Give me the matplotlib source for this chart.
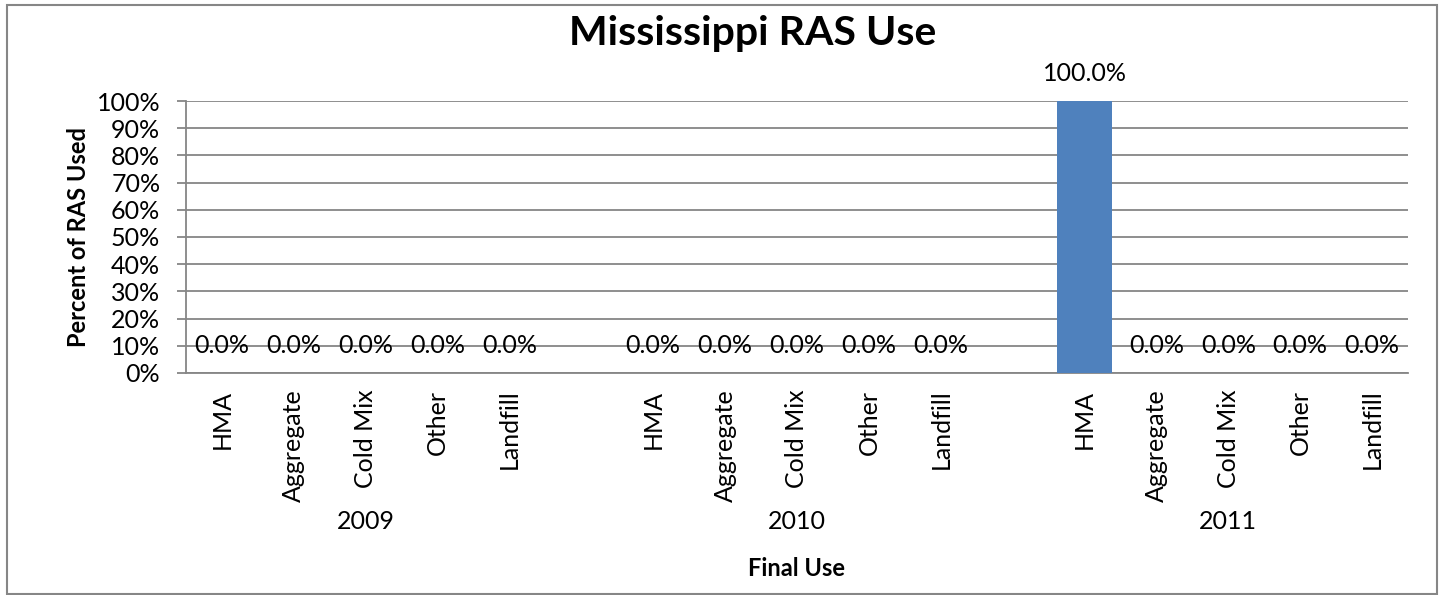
import numpy as np
import matplotlib
matplotlib.use("Agg")
import matplotlib.pyplot as plt
from matplotlib.patches import Rectangle

plt.rcParams['font.family'] = ['Lato', 'DejaVu Sans']

# data
years = ['2009', '2010', '2011']
uses = ['HMA', 'Aggregate', 'Cold Mix', 'Other', 'Landfill']
pct_2009 = [0.0, 0.0, 0.0, 0.0, 0.0]
pct_2010 = [0.0, 0.0, 0.0, 0.0, 0.0]
pct_2011 = [100.0, 0.0, 0.0, 0.0, 0.0]
all_pct = [pct_2009, pct_2010, pct_2011]

W, H = 1443, 595
fig = plt.figure(figsize=(W / 100, H / 100), dpi=100)
ax = fig.add_axes([186 / W, 1 - 373 / H, (1408 - 186) / W, (373 - 101) / H])

grey = '#868686'
bar_col = '#4F81BD'
fs = 18

# one empty slot between the year groups
slot = len(uses) + 1
xs, labels = [], []
for g, vals in enumerate(all_pct):
    pos = np.arange(len(uses)) + g * slot
    ax.bar(pos, vals, width=0.77, color=bar_col, zorder=3)
    for p, v in zip(pos, vals):
        ax.annotate(f"{v:.1f}%", (p, v), xytext=(0, 19.5), textcoords='offset points',
                    ha='center', va='center', fontsize=fs, color='black',
                    annotation_clip=False, zorder=4)
    # year label under group
    ax.annotate(years[g], (pos.mean(), 0), xytext=(0, -107), textcoords='offset points',
                ha='center', va='center', fontsize=fs, annotation_clip=False)
    xs.extend(pos)
    labels.extend(uses)

ax.set_xlim(-0.5, len(years) * slot - 1.5)
ax.set_ylim(0, 100)
ax.set_yticks(np.arange(0, 101, 10))
ax.set_yticklabels([f"{t}%" for t in range(0, 101, 10)], fontsize=fs)
ax.set_xticks(xs)
ax.set_xticklabels(labels, rotation=90, fontsize=fs, va='top', ha='center')
ax.tick_params(axis='x', length=0, pad=12)
ax.tick_params(axis='y', length=6.5, width=1.3, color=grey, pad=12)

ax.grid(axis='y', color=grey, linewidth=1.3, zorder=0)
ax.set_axisbelow(True)
for s in ['top', 'right']:
    ax.spines[s].set_visible(False)
for s in ['left', 'bottom']:
    ax.spines[s].set_color(grey)
    ax.spines[s].set_linewidth(1.3)

fig.text(753 / W, 1 - 45 / H, 'Mississippi RAS Use', ha='center', va='baseline',
         fontsize=29.5, fontweight='bold')
fig.text(78 / W, 1 - 237 / H, 'Percent of RAS Used', ha='center', va='center',
         rotation=90, fontsize=17, fontweight='bold')
fig.text(797 / W, 1 - 568 / H, 'Final Use', ha='center', va='center',
         fontsize=17, fontweight='bold')

# chart border
fig.patches.append(Rectangle((7 / W, 1 / H), (1437 - 7) / W, 589.5 / H,
                             transform=fig.transFigure, fill=False,
                             edgecolor=grey, linewidth=1.5))

fig.savefig('out.png', dpi=100)
